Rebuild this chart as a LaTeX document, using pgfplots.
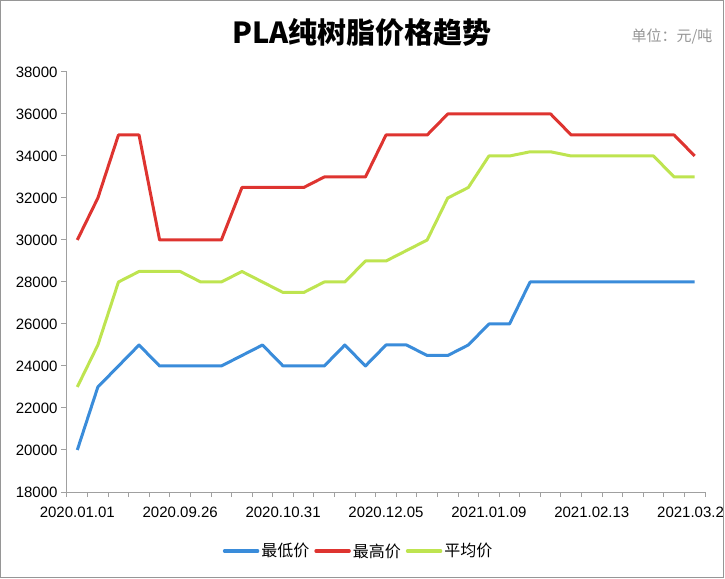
\documentclass[border=0pt]{standalone}
\usepackage{fontspec}
\setmainfont{Liberation Sans}
\newfontfamily\cjk{Noto Sans CJK SC}
\usepackage{pgfplots}
\usepackage{pgfplotstable}
\pgfplotsset{compat=1.18}
\definecolor{lowc}{RGB}{58,140,218}
\definecolor{highc}{RGB}{222,52,48}
\definecolor{avgc}{RGB}{190,228,80}
\definecolor{axisgray}{RGB}{160,160,160}
\definecolor{unitgray}{RGB}{150,150,150}
\definecolor{bordergray}{RGB}{150,150,150}

\pgfplotstableread{
x low high avg
0 20000 30000 23000
1 23000 32000 25000
2 24000 35000 28000
3 25000 35000 28500
4 24000 30000 28500
5 24000 30000 28500
6 24000 30000 28000
7 24000 30000 28000
8 24500 32500 28500
9 25000 32500 28000
10 24000 32500 27500
11 24000 32500 27500
12 24000 33000 28000
13 25000 33000 28000
14 24000 33000 29000
15 25000 35000 29000
16 25000 35000 29500
17 24500 35000 30000
18 24500 36000 32000
19 25000 36000 32500
20 26000 36000 34000
21 26000 36000 34000
22 28000 36000 34200
23 28000 36000 34200
24 28000 35000 34000
25 28000 35000 34000
26 28000 35000 34000
27 28000 35000 34000
28 28000 35000 34000
29 28000 35000 33000
30 28000 34000 33000
}\data

\begin{document}
\begin{tikzpicture}
\begin{axis}[
  scale only axis, width=638pt, height=420pt,
  at={(0pt,0pt)}, anchor=south west,
  xmin=-0.5, xmax=30.5, ymin=18000, ymax=38000,
  axis lines*=left,
  axis line style={draw=axisgray, line width=1pt},
  tick align=outside,
  major tick length=6pt,
  ytick style={draw=axisgray, line width=1pt},
  xtick={0,5,10,15,20,25,30},
  xticklabels={2020.01.01,2020.09.26,2020.10.31,2020.12.05,2021.01.09,2021.02.13,2021.03.2\phantom{0}},
  xtick style={draw=none},
  extra x ticks={-0.5,0.5,...,30.5},
  extra x tick labels={},
  extra x tick style={major tick length=5pt, xtick style={draw=axisgray, line width=1pt}},
  ytick={18000,20000,...,38000},
  /pgf/number format/assume math mode=true,
  yticklabel style={/pgf/number format/1000 sep={}},
  scaled y ticks=false,
  tick label style={font=\fontsize{15}{18}\selectfont, text=black},
  xticklabel style={yshift=-5pt},
  clip=false,
  legend columns=3,
  legend style={draw=none, at={(0.457,-0.1405)}, anchor=center,
    font=\cjk\fontsize{16}{19}\selectfont,
    /tikz/every even column/.append style={column sep=3pt}},
  legend image code/.code={\draw[#1, line width=3.5pt, line cap=round] (0pt,0pt) -- (33pt,0pt);},
]
\addplot[lowc, line width=3pt, line join=round] table[x=x,y=low]{\data};
\addplot[highc, line width=3pt, line join=round] table[x=x,y=high]{\data};
\addplot[avgc, line width=3pt, line join=round] table[x=x,y=avg]{\data};
\legend{最低价,最高价,平均价}
\end{axis}
\node[anchor=center, font=\cjk\bfseries\fontsize{29}{35}\selectfont] at (295pt,460pt) {PLA纯树脂价格趋势};
\node[anchor=east, text=unitgray, font=\cjk\fontsize{15}{18}\selectfont] at (649pt,456pt) {单位：元/吨};
\draw[bordergray, line width=1pt] (-66pt,-85pt) rectangle (656pt,491pt);
\pgfresetboundingbox
\useasboundingbox (-67pt,-86pt) rectangle (658pt,492pt);
\end{tikzpicture}
\end{document}
